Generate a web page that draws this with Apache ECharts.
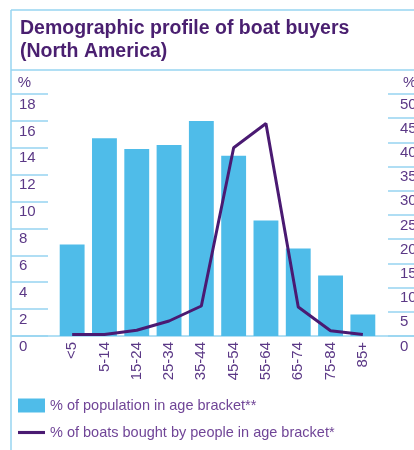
<!DOCTYPE html>
<html>
<head>
<meta charset="utf-8">
<style>
  html, body { margin: 0; padding: 0; background: #ffffff; }
  #chart { width: 414px; height: 450px; }
</style>
<script src="https://cdn.jsdelivr.net/npm/echarts@6/dist/echarts.min.js"></script>
</head>
<body>
<div id="chart"></div>
<script>
// Age brackets along the bottom axis
const ageBrackets = ['<5', '5-14', '15-24', '25-34', '35-44', '45-54', '55-64', '65-74', '75-84', '85+'];
// Share of population in each bracket (left axis, %)
const populationShare = [6.8, 14.7, 13.9, 14.2, 16.0, 13.4, 8.6, 6.5, 4.5, 1.6];
// Share of boats bought by each bracket (right axis, %)
const boatShare = [0.3, 0.3, 1.2, 3.1, 6.2, 38.9, 43.9, 6.0, 1.1, 0.3];
// Axis ranges
const leftAxisRange = { min: 0, max: 18, interval: 2 };
const rightAxisRange = { min: 0, max: 50, interval: 5 };

const POP_NAME = '% of population in age bracket**';
const BOAT_NAME = '% of boats bought by people in age bracket*';

const FRAME = '#97d4f1';
const BAR = '#4fbce9';
const LINE = '#4a1a72';
const TITLE = '#4a1f70';
const LABEL = '#5b3886';
const LEGEND_TEXT = '#704597';
const FONT = '"Liberation Sans", Arial, Helvetica, sans-serif';

const chart = echarts.init(document.getElementById('chart'), null, { renderer: 'canvas' });

const legendText = { color: LEGEND_TEXT, fontSize: 14.5, fontFamily: FONT };

const option = {
  animation: false,
  backgroundColor: '#ffffff',
  textStyle: { fontFamily: FONT },
  grid: { left: 56, right: 35, top: 94, bottom: 114, containLabel: false, outerBoundsMode: 'none' },
  legend: [
    {
      left: 18, top: 398, padding: 0,
      itemWidth: 27, itemHeight: 14,
      textStyle: legendText,
      data: [{ name: POP_NAME, icon: 'rect' }]
    },
    {
      left: 18, top: 425, padding: 0,
      itemWidth: 27, itemHeight: 14,
      textStyle: legendText,
      data: [{ name: BOAT_NAME, icon: 'path://M0,0H26V3H0Z' }]
    }
  ],
  xAxis: {
    type: 'category',
    data: ageBrackets,
    axisLine: { show: false },
    axisTick: { show: false },
    axisLabel: {
      rotate: 90,
      margin: 6,
      color: LABEL,
      fontSize: 15,
      fontFamily: FONT,
      interval: 0
    }
  },
  yAxis: [
    {
      type: 'value',
      position: 'left',
      offset: 8,
      min: leftAxisRange.min,
      max: leftAxisRange.max,
      interval: leftAxisRange.interval,
      name: '%',
      nameLocation: 'end',
      nameGap: 11,
      nameTextStyle: { color: LABEL, fontSize: 15, align: 'right', verticalAlign: 'middle', padding: [0, 17, 0, 0] },
      axisLine: { show: false },
      axisTick: { show: true, inside: false, length: 37, lineStyle: { color: FRAME, width: 1.5 } },
      splitLine: { show: false },
      axisLabel: { align: 'left', margin: 29, verticalAlign: 'top', padding: [3, 0, 0, 0], color: LABEL, fontSize: 15, fontFamily: FONT }
    },
    {
      type: 'value',
      position: 'right',
      offset: 9,
      min: rightAxisRange.min,
      max: rightAxisRange.max,
      interval: rightAxisRange.interval,
      name: '%',
      nameLocation: 'end',
      nameGap: 11,
      nameTextStyle: { color: LABEL, fontSize: 15, align: 'left', verticalAlign: 'middle', padding: [0, 0, 0, 15] },
      axisLine: { show: false },
      axisTick: { show: true, inside: false, length: 30, lineStyle: { color: FRAME, width: 1.5 } },
      splitLine: { show: false },
      axisLabel: { align: 'left', margin: 12, verticalAlign: 'top', padding: [3, 0, 0, 0], color: LABEL, fontSize: 15, fontFamily: FONT }
    }
  ],
  series: [
    {
      name: POP_NAME,
      type: 'bar',
      yAxisIndex: 0,
      data: populationShare,
      barCategoryGap: '23%',
      itemStyle: { color: BAR },
      z: 2
    },
    {
      name: BOAT_NAME,
      type: 'line',
      yAxisIndex: 1,
      data: boatShare,
      showSymbol: false,
      symbol: 'none',
      lineStyle: { color: LINE, width: 3 },
      itemStyle: { color: LINE },
      z: 3
    }
  ]
};

chart.setOption(option);

// Frame, title and zero baseline
const baseY = chart.convertToPixel({ yAxisIndex: 0 }, 0);
chart.setOption({
  graphic: [
    { type: 'line', shape: { x1: 11, y1: 10, x2: 414, y2: 10 }, style: { stroke: FRAME, lineWidth: 1.5 }, silent: true },
    { type: 'line', shape: { x1: 11, y1: 10, x2: 11, y2: 450 }, style: { stroke: FRAME, lineWidth: 1.5 }, silent: true },
    { type: 'line', shape: { x1: 11, y1: 70, x2: 414, y2: 70 }, style: { stroke: FRAME, lineWidth: 1.5 }, silent: true },
    { type: 'line', shape: { x1: 11, y1: baseY, x2: 414, y2: baseY }, style: { stroke: FRAME, lineWidth: 1.5 }, silent: true, z: 1 },
    {
      type: 'text', left: 20, top: 17,
      style: {
        text: 'Demographic profile of boat buyers\n(North America)',
        fill: TITLE, font: 'bold 19.5px ' + FONT, lineHeight: 23
      },
      silent: true
    }
  ]
});
</script>
</body>
</html>
